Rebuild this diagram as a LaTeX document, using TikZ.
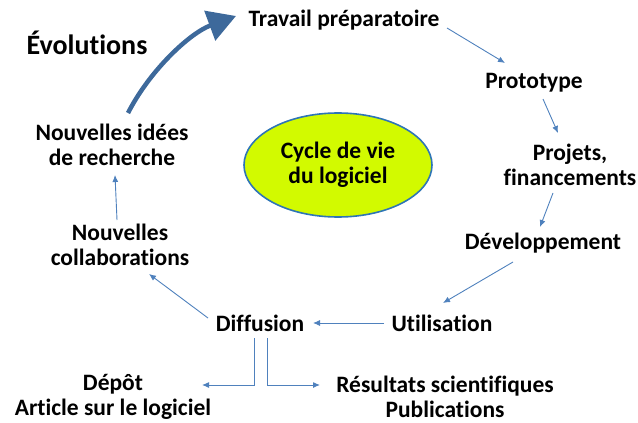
\documentclass[tikz,border=0pt]{standalone}
\usepackage{fontspec}
\setmainfont{Carlito}[Ligatures=NoCommon]
\usepackage{tikz}
\usetikzlibrary{calc}
\usetikzlibrary{positioning}
\usetikzlibrary{arrows.meta}
\usetikzlibrary{shapes.geometric}
\definecolor{arrowblue}{RGB}{79,129,189}
\definecolor{bigblue}{RGB}{61,105,155}
\definecolor{limefill}{RGB}{210,250,0}
\definecolor{ovalblue}{RGB}{46,117,182}

\begin{document}
\begin{tikzpicture}[x=1pt,y=-1pt,every node/.style={font=\bfseries\fontsize{23.5}{25}\selectfont,align=center,inner sep=0pt},link/.style={draw=arrowblue,line width=0.9pt,-{Latex[length=7pt,width=6pt]}},bigarrow/.style={draw=bigblue,line width=4.5pt,-{Triangle[length=28pt,width=31pt]}}]

\useasboundingbox (0,0) rectangle (638,423);

\node (evol) at (87,43) {\fontsize{28}{30}\selectfont Évolutions};
\node (travail) at (344,20) {Travail préparatoire};
\node (proto) at (534,83) {Prototype};
\node (projets) at (570,165) {Projets,\\financements};
\node (dev) at (543,243) {Développement};
\node (util) at (442,323) {Utilisation};
\node (diff) at (260,323) {Diffusion};
\node (collab) at (120,244.5) {Nouvelles\\collaborations};
\node (idees) at (112,144.5) {Nouvelles idées\\de recherche};
\node (depot) at (113,397) {Dépôt\\Article sur le logiciel};
\node (resultats) at (445,396.5) {Résultats scientifiques\\Publications};

\node[ellipse,draw=ovalblue,line width=1.6pt,fill=limefill,minimum width=188pt,minimum height=104pt] (cycle) at (338,165) {Cycle de vie\\du logiciel};

\draw[link] ([shift={(103,8)}]travail.center) -- ([shift={(-29,-20)}]proto.center);
\draw[link] ([shift={(9,16)}]proto.center) -- ([shift={(-12,-32)}]projets.center);
\draw[link] ([shift={(-17,28)}]projets.center) -- ([shift={(-3,-16)}]dev.center);
\draw[link] ([shift={(-30,19)}]dev.center) -- ([shift={(1,-20)}]util.center);
\draw[link] ([shift={(-58,0)}]util.center) -- ([shift={(53,0)}]diff.center);
\draw[link] ([shift={(-52,-5)}]diff.center) -- ([shift={(29,29.5)}]collab.center);
\draw[link] ([shift={(-3,-24.5)}]collab.center) -- ([shift={(3,30.5)}]idees.center);

\draw[link,line width=1pt] ([shift={(-6,15)}]diff.center) |- ([shift={(89,-12)}]depot.center);
\draw[link,line width=1pt] ([shift={(7,15)}]diff.center) |- ([shift={(-125,-11.5)}]resultats.center);

%\draw[bigarrow] (idees) to[bend left] (travail);
\draw[bigarrow] ([shift={(16,-31.5)}]idees.center) .. controls (150,70) and (190,33) .. ([shift={(-108,-4)}]travail.center);
\end{tikzpicture}
\end{document}
